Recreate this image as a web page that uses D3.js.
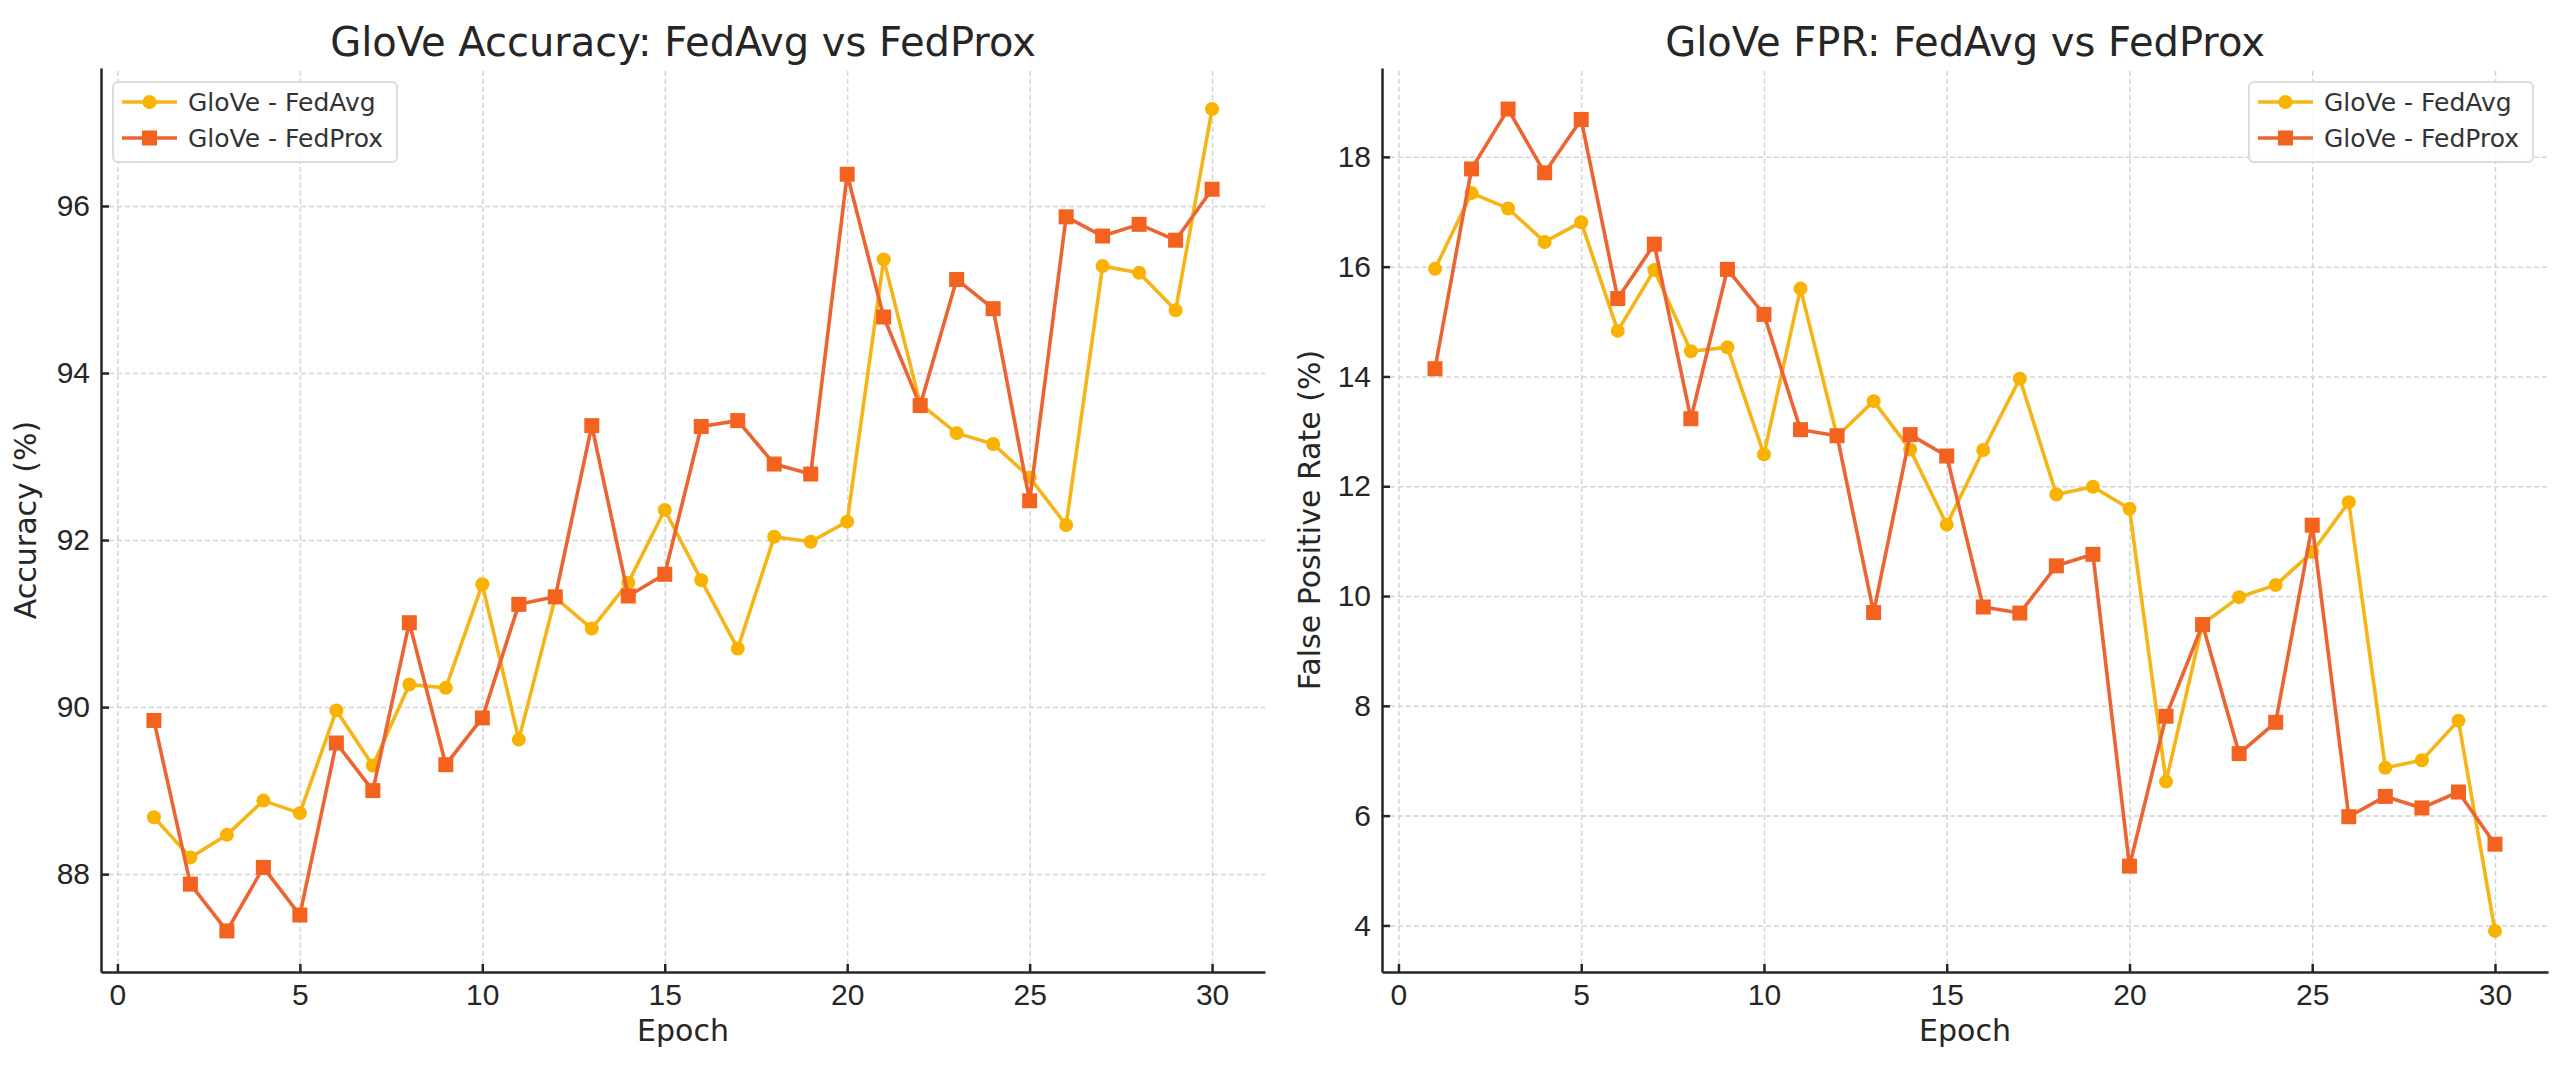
<!DOCTYPE html>
<html>
<head>
<meta charset="utf-8">
<script src="https://cdn.jsdelivr.net/npm/d3@7"></script>
<style>
  body { margin: 0; background: #fff; }
  svg { display: block; font-family: "DejaVu Sans", sans-serif; }
  .grid line { stroke: #d4d4d4; stroke-width: 1.5; stroke-dasharray: 5,3; }
  .grid .domain { display: none; }
  .axis text { font-size: 30px; fill: #262626; }
  .axis line, .axis path { stroke: #262626; stroke-width: 2.5; }
</style>
</head>
<body>
<div id="chart"></div>
<script>
const epochs = [1, 2, 3, 4, 5, 6, 7, 8, 9, 10, 11, 12, 13, 14, 15, 16, 17, 18, 19, 20, 21, 22, 23, 24, 25, 26, 27, 28, 29, 30];

const accFedAvg = [88.68, 88.20, 88.47, 88.88, 88.73, 89.96, 89.30, 90.27, 90.23, 91.47,
                   89.61, 91.31, 90.94, 91.49, 92.36, 91.52, 90.70, 92.04, 91.98, 92.22,
                   95.36, 93.63, 93.28, 93.15, 92.75, 92.18, 95.28, 95.20, 94.75, 97.16];
const accFedProx = [89.84, 87.88, 87.32, 88.08, 87.51, 89.57, 89.00, 91.01, 89.31, 89.87,
                    91.23, 91.32, 93.37, 91.33, 91.59, 93.36, 93.43, 92.91, 92.79, 96.38,
                    94.67, 93.61, 95.12, 94.77, 92.47, 95.87, 95.64, 95.78, 95.59, 96.20];

const fprFedAvg = [15.96, 17.34, 17.06, 16.45, 16.81, 14.83, 15.94, 14.46, 14.53, 12.58,
                   15.60, 12.91, 13.55, 12.67, 11.30, 12.66, 13.96, 11.85, 11.99, 11.59,
                   6.62, 9.49, 9.98, 10.20, 10.80, 11.71, 6.87, 7.01, 7.73, 3.90];
const fprFedProx = [14.14, 17.78, 18.87, 17.71, 18.68, 15.42, 16.41, 13.23, 15.95, 15.13,
                    13.03, 12.92, 9.70, 12.94, 12.55, 9.80, 9.69, 10.55, 10.76, 5.08,
                    7.81, 9.48, 7.13, 7.70, 11.29, 5.98, 6.35, 6.14, 6.43, 5.48];

const xTicks = [0, 5, 10, 15, 20, 25, 30];
const accTicks = [88, 90, 92, 94, 96];
const fprTicks = [4, 6, 8, 10, 12, 14, 16, 18];

const seriesNames = ['GloVe - FedAvg', 'GloVe - FedProx'];
const lineColors = ['#f5b417', '#ec6434'];
const markerColors = ['#f9b200', '#f46220'];

const W = 2568, H = 1067;
const svg = d3.select('#chart').append('svg').attr('width', W).attr('height', H);

// matplotlib style 5% padding around the data
function padded(lo, hi) {
  const m = (hi - lo) * 0.05;
  return [lo - m, hi + m];
}

function panel(opts) {
  const { left, right, top, bottom, title, ylabel, yTicks, series, legendSide, ylabelX } = opts;
  const g = svg.append('g');

  const x = d3.scaleLinear().domain(padded(d3.min(epochs), d3.max(epochs))).range([left, right]);
  const allY = series.flat();
  const y = d3.scaleLinear().domain(padded(d3.min(allY), d3.max(allY))).range([bottom, top]);

  // grid
  g.append('g').attr('class', 'grid')
    .attr('transform', `translate(0,${bottom})`)
    .call(d3.axisBottom(x).tickValues(xTicks).tickSize(-(bottom - top)).tickFormat(''));
  g.append('g').attr('class', 'grid')
    .attr('transform', `translate(${left},0)`)
    .call(d3.axisLeft(y).tickValues(yTicks).tickSize(-(right - left)).tickFormat(''));

  // axes (ticks point inward)
  const xa = g.append('g').attr('class', 'axis')
    .attr('transform', `translate(0,${bottom})`)
    .call(d3.axisBottom(x).tickValues(xTicks).tickSizeInner(-8).tickSizeOuter(0).tickPadding(10));
  xa.selectAll('text').attr('dy', '0.78em');
  g.append('g').attr('class', 'axis')
    .attr('transform', `translate(${left},0)`)
    .call(d3.axisLeft(y).tickValues(yTicks).tickSizeInner(-8).tickSizeOuter(0).tickPadding(11));

  // lines and markers
  const line = d3.line().x((d, i) => x(epochs[i])).y(d => y(d));
  series.forEach((vals, s) => {
    g.append('path')
      .datum(vals)
      .attr('fill', 'none')
      .attr('stroke', lineColors[s])
      .attr('stroke-width', 3.6)
      .attr('stroke-linejoin', 'round')
      .attr('d', line);
    if (s === 0) {
      g.selectAll(null).data(vals).enter().append('circle')
        .attr('cx', (d, i) => x(epochs[i]))
        .attr('cy', d => y(d))
        .attr('r', 7)
        .attr('fill', markerColors[s]);
    } else {
      g.selectAll(null).data(vals).enter().append('rect')
        .attr('x', (d, i) => x(epochs[i]) - 7.5)
        .attr('y', d => y(d) - 7.5)
        .attr('width', 15)
        .attr('height', 15)
        .attr('fill', markerColors[s]);
    }
  });

  // title & labels
  g.append('text')
    .attr('x', (left + right) / 2).attr('y', 56)
    .attr('text-anchor', 'middle')
    .style('font-size', '40px').style('fill', '#262626')
    .text(title);
  g.append('text')
    .attr('x', (left + right) / 2).attr('y', 1041)
    .attr('text-anchor', 'middle')
    .style('font-size', '30px').style('fill', '#262626')
    .text('Epoch');
  g.append('text')
    .attr('transform', `translate(${ylabelX},${(top + bottom) / 2}) rotate(-90)`)
    .attr('text-anchor', 'middle')
    .attr('dy', '0.36em')
    .style('font-size', '30px').style('fill', '#262626')
    .text(ylabel);

  // legend
  const lg = g.append('g');
  const items = lg.selectAll('g').data(seriesNames).enter().append('g');
  items.append('text')
    .attr('x', 75).attr('y', (d, i) => 20 + i * 36)
    .attr('dy', '0.36em')
    .style('font-size', '25px').style('fill', '#333')
    .text(d => d);
  let textW = 0;
  items.selectAll('text').each(function () { textW = Math.max(textW, this.getComputedTextLength()); });
  const boxW = 75 + textW + 14, boxH = 80;
  const bx = legendSide === 'left' ? left + 12 : right - 15 - boxW;
  lg.attr('transform', `translate(${bx},82)`);
  lg.insert('rect', ':first-child')
    .attr('width', boxW).attr('height', boxH)
    .attr('rx', 5)
    .attr('fill', 'rgba(255,255,255,0.85)')
    .attr('stroke', '#dcdcdc').attr('stroke-width', 2);
  items.append('line')
    .attr('x1', 9).attr('x2', 64)
    .attr('y1', (d, i) => 20 + i * 36).attr('y2', (d, i) => 20 + i * 36)
    .attr('stroke', (d, i) => lineColors[i]).attr('stroke-width', 3.6);
  items.filter((d, i) => i === 0).append('circle')
    .attr('cx', 36.5).attr('cy', 20).attr('r', 7).attr('fill', markerColors[0]);
  items.filter((d, i) => i === 1).append('rect')
    .attr('x', 29).attr('y', 48.5).attr('width', 15).attr('height', 15).attr('fill', markerColors[1]);
}

panel({
  left: 101, right: 1265, top: 68, bottom: 972,
  title: 'GloVe Accuracy: FedAvg vs FedProx',
  ylabel: 'Accuracy (%)', ylabelX: 25,
  yTicks: accTicks, series: [accFedAvg, accFedProx], legendSide: 'left'
});

panel({
  left: 1382, right: 2548, top: 68, bottom: 972,
  title: 'GloVe FPR: FedAvg vs FedProx',
  ylabel: 'False Positive Rate (%)', ylabelX: 1309,
  yTicks: fprTicks, series: [fprFedAvg, fprFedProx], legendSide: 'right'
});
</script>
</body>
</html>
